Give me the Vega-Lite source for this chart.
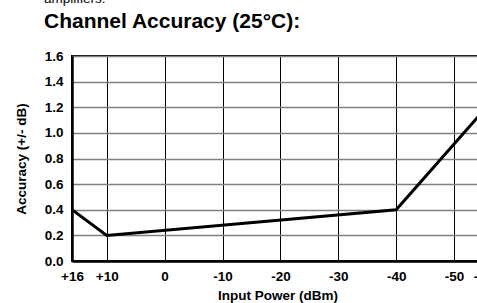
{
  "$schema": "https://vega.github.io/schema/vega-lite/v6.json",
  "autosize": "none",
  "width": 411,
  "height": 205,
  "padding": {"left": 72, "top": 56, "right": -6, "bottom": 42},
  "background": "white",
  "config": {
    "font": "Liberation Sans",
    "view": {"stroke": "black", "strokeWidth": 2}
  },
  "title": {
    "text": "amplifiers.",
    "subtitle": "Channel Accuracy (25°C):",
    "anchor": "start",
    "frame": "group",
    "dx": -28,
    "offset": 17,
    "font": "Liberation Sans",
    "fontSize": 13.5,
    "fontWeight": "normal",
    "color": "black",
    "subtitleFont": "Liberation Sans",
    "subtitleFontSize": 21,
    "subtitleFontWeight": "bold",
    "subtitleColor": "black",
    "subtitlePadding": 6
  },
  "data": {
    "values": [
      {"power": 16, "accuracy": 0.4},
      {"power": 10, "accuracy": 0.2},
      {"power": -40, "accuracy": 0.4},
      {"power": -55, "accuracy": 1.17}
    ]
  },
  "mark": {"type": "line", "color": "black", "strokeWidth": 3, "clip": true},
  "encoding": {
    "x": {
      "field": "power",
      "type": "quantitative",
      "scale": {"domain": [16, -55], "nice": false, "zero": false},
      "axis": {
        "values": [16, 10, 0, -10, -20, -30, -40, -50, -55],
        "labelExpr": "datum.value > 0 ? '+' + datum.value : '' + datum.value",
        "title": "Input Power (dBm)",
        "titleFontSize": 13.5,
        "titleFontWeight": "bold",
        "titleColor": "black",
        "titlePadding": 6,
        "labelFontSize": 13.5,
        "labelFontWeight": "bold",
        "labelColor": "black",
        "labelPadding": 8,
        "labelFlush": false,
        "labelOverlap": false,
        "ticks": false,
        "domainColor": "black",
        "domainWidth": 2.5,
        "grid": true,
        "gridColor": "black",
        "gridWidth": 1,
        "gridOpacity": 1
      }
    },
    "y": {
      "field": "accuracy",
      "type": "quantitative",
      "scale": {"domain": [0, 1.6], "nice": false},
      "axis": {
        "values": [0, 0.2, 0.4, 0.6, 0.8, 1.0, 1.2, 1.4, 1.6],
        "format": ".1f",
        "title": "Accuracy (+/- dB)",
        "titleFontSize": 13.5,
        "titleFontWeight": "bold",
        "titleColor": "black",
        "titlePadding": 16,
        "labelFontSize": 13.5,
        "labelFontWeight": "bold",
        "labelColor": "black",
        "labelPadding": 9,
        "labelFlush": false,
        "labelOverlap": false,
        "ticks": false,
        "domainColor": "black",
        "domainWidth": 2.5,
        "grid": true,
        "gridColor": "#808080",
        "gridWidth": 1.5,
        "gridOpacity": 1
      }
    }
  }
}
